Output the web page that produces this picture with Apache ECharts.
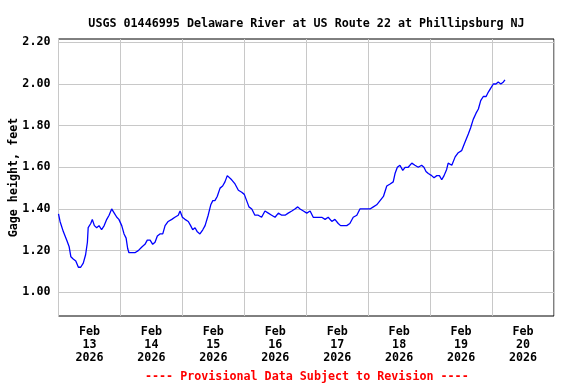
<!DOCTYPE html>
<html>
<head>
<meta charset="utf-8">
<script src="https://cdn.jsdelivr.net/npm/echarts@6/dist/echarts.min.js"></script>
<style>html,body{margin:0;padding:0;background:#fff}#c{width:576px;height:384px}</style>
</head>
<body>
<div id="c"></div>
<script>
// Hours since Feb 13 2026 00:00
const hours = [0.0,0.6,1.9,3.2,4.1,4.8,5.7,6.7,7.7,8.6,9.6,10.5,11.2,11.5,12.5,13.1,13.9,14.8,15.7,16.7,17.7,18.7,19.6,20.6,21.6,22.6,23.4,24.5,25.4,26.2,26.8,27.3,28.4,29.6,30.9,32.5,33.5,34.4,35.5,36.5,37.4,38.3,39.3,40.4,41.3,42.5,43.9,45.1,46.4,47.1,48.0,49.0,50.3,51.2,52.0,52.9,53.8,54.8,55.9,56.8,58.0,59.0,59.8,60.6,61.5,62.6,63.6,64.5,65.4,66.1,67.1,68.4,69.7,71.0,72.0,72.9,73.8,74.9,76.1,77.4,78.7,80.0,81.3,82.6,83.9,85.2,86.5,87.8,89.0,90.4,91.6,92.7,93.6,94.9,96.2,97.5,98.7,99.4,100.7,102.0,103.3,104.5,105.9,107.1,108.4,109.3,110.4,111.7,112.9,114.2,115.6,116.8,118.1,119.4,120.7,122.0,123.3,124.6,125.9,127.2,128.5,129.7,130.4,131.3,132.3,133.4,134.3,135.5,136.9,138.1,139.4,140.7,141.6,142.4,143.3,144.6,145.5,146.6,147.6,148.5,149.4,150.4,151.0,152.4,153.7,154.9,156.2,157.5,158.8,159.7,160.7,161.8,162.7,163.6,164.6,165.7,166.5,167.5,168.5,169.5,170.4,171.4,172.4,173.0];
const gage = [1.376,1.34,1.29,1.25,1.22,1.17,1.16,1.15,1.12,1.12,1.14,1.18,1.24,1.31,1.33,1.35,1.32,1.31,1.32,1.30,1.32,1.35,1.37,1.40,1.38,1.36,1.35,1.32,1.28,1.26,1.21,1.19,1.19,1.19,1.20,1.22,1.23,1.25,1.25,1.23,1.24,1.27,1.28,1.28,1.32,1.34,1.35,1.36,1.37,1.39,1.36,1.35,1.34,1.32,1.30,1.31,1.29,1.28,1.30,1.32,1.37,1.42,1.44,1.44,1.46,1.50,1.51,1.53,1.56,1.56,1.54,1.52,1.49,1.48,1.47,1.44,1.41,1.40,1.37,1.37,1.36,1.39,1.38,1.37,1.36,1.38,1.37,1.37,1.38,1.39,1.40,1.41,1.40,1.39,1.38,1.39,1.36,1.36,1.36,1.36,1.35,1.36,1.34,1.35,1.33,1.32,1.32,1.32,1.33,1.36,1.37,1.40,1.40,1.40,1.40,1.41,1.42,1.44,1.46,1.51,1.52,1.53,1.57,1.60,1.61,1.585,1.60,1.60,1.62,1.61,1.60,1.61,1.60,1.58,1.57,1.56,1.55,1.56,1.56,1.54,1.56,1.59,1.62,1.61,1.65,1.67,1.68,1.72,1.76,1.79,1.83,1.86,1.88,1.92,1.94,1.94,1.96,1.98,2.00,2.00,2.01,2.00,2.01,2.02];
const yTicks = [1.00,1.20,1.40,1.60,1.80,2.00,2.20];
const dayMonth = 'Feb';
const dayNums = ['13','14','15','16','17','18','19','20'];
const dayYear = '2026';
const labelHours = dayNums.map((d,i)=>i*24+12);

const font = '"DejaVu Sans Mono", "Liberation Mono", monospace';
const chart = echarts.init(document.getElementById('c'));
chart.setOption({
  animation:false,
  backgroundColor:'#fff',
  title:{
    text:'USGS 01446995 Delaware River at US Route 22 at Phillipsburg NJ',
    left:301.5, top:13, textAlign:'center',
    textStyle:{fontFamily:font,fontWeight:'bold',fontSize:11.7,color:'#000'}
  },
  graphic:[{
    type:'text', left:145, top:371,
    style:{text:'---- Provisional Data Subject to Revision ----',fill:'#ff0000',
      font:'bold 11.7px "DejaVu Sans Mono", monospace'}
  }],
  grid:{left:58.5,right:22,top:39,bottom:68,show:true,borderColor:'#000',borderWidth:1,containLabel:false,outerBoundsMode:'none'},
  xAxis:{
    type:'value', min:0, max:192, interval:24,
    axisLine:{show:false}, axisTick:{show:false},
    splitLine:{show:true,lineStyle:{color:'#c8c8c8',width:1}},
    axisLabel:{
      customValues:labelHours, margin:9,
      fontFamily:font,fontWeight:'bold',fontSize:11.7,color:'#000',lineHeight:13.3,
      formatter:function(v){const i=Math.round((v-12)/24);return dayMonth+'\n'+dayNums[i]+'\n'+dayYear;}
    }
  },
  yAxis:{
    type:'value', min:0.886, max:2.216,
    name:'Gage height, feet', nameLocation:'middle', nameGap:39, nameRotate:90, nameMoveOverlap:false,
    nameTextStyle:{fontFamily:font,fontWeight:'bold',fontSize:11.7,color:'#000'},
    axisLine:{show:false},
    axisTick:{show:false,customValues:yTicks},
    splitLine:{show:true,lineStyle:{color:'#c8c8c8',width:1}},
    axisLabel:{customValues:yTicks,margin:8,fontFamily:font,fontWeight:'bold',fontSize:11.7,color:'#000',
      formatter:v=>v.toFixed(2)}
  },
  series:[{
    type:'line', data:hours.map((h,i)=>[h,gage[i]]),
    showSymbol:false, lineStyle:{color:'#0000ff',width:1.3}, itemStyle:{color:'#0000ff'}
  }]
});
</script>
</body>
</html>
